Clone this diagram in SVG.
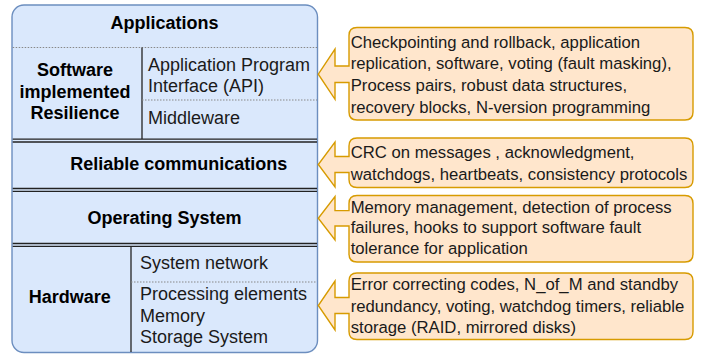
<svg xmlns="http://www.w3.org/2000/svg" width="710" height="356" viewBox="0 0 710 356">
<defs>
<style>
.stack{fill:#dae8fc;stroke:#6c8ebf;stroke-width:1.4}
.call{fill:#ffe6cc;stroke:#d79b00;stroke-width:1.4;stroke-linejoin:miter}
.sep{stroke:#222;stroke-width:1.3;fill:none}
.dot{stroke:#888;stroke-width:1;stroke-dasharray:1.5 1.5;fill:none}
.b{font-family:"Liberation Sans",Arial,sans-serif;font-weight:bold;font-size:18px;fill:#000}
.r{font-family:"Liberation Sans",Arial,sans-serif;font-size:18px;fill:#1a1a1a}
.c{font-family:"Liberation Sans",Arial,sans-serif;font-size:16.7px;fill:#1a1a1a}
</style>
</defs>
<rect class="stack" x="12" y="5" width="305.5" height="347.5" rx="12" ry="12"/>
<g id="applications">
<text class="b" x="164.5" y="29.3" text-anchor="middle">Applications</text>
<line class="dot" x1="12.7" y1="47.5" x2="317" y2="47.5"/>
</g>
<g id="software-resilience">
<line class="sep" x1="142" y1="47.5" x2="142" y2="139"/>
<line class="dot" x1="142" y1="100" x2="317" y2="100"/>
<text class="b" text-anchor="middle"><tspan x="75" y="76">Software</tspan><tspan x="75" y="97.5">implemented</tspan><tspan x="75" y="119.3">Resilience</tspan></text>
<text class="r"><tspan x="148" y="70.7">Application Program</tspan><tspan x="148" y="91.7">Interface (API)</tspan></text>
<text class="r" x="148" y="124">Middleware</text>
</g>
<g id="reliable-communications">
<line class="sep" x1="12.7" y1="139.2" x2="317" y2="139.2"/>
<line class="sep" x1="12.7" y1="142" x2="317" y2="142"/>
<text class="b" x="178.7" y="170" text-anchor="middle">Reliable communications</text>
</g>
<g id="operating-system">
<line class="sep" x1="12.7" y1="188.5" x2="317" y2="188.5"/>
<line class="sep" x1="12.7" y1="191.3" x2="317" y2="191.3"/>
<text class="b" x="164.5" y="224.3" text-anchor="middle">Operating System</text>
</g>
<g id="hardware">
<line class="sep" x1="12.7" y1="243.5" x2="317" y2="243.5"/>
<line class="sep" x1="12.7" y1="246.4" x2="317" y2="246.4"/>
<line class="sep" x1="131" y1="246.4" x2="131" y2="352"/>
<line class="dot" x1="131" y1="282" x2="317" y2="282"/>
<text class="b" x="69.7" y="302.7" text-anchor="middle">Hardware</text>
<text class="r" x="140" y="269.3">System network</text>
<text class="r"><tspan x="140" y="300">Processing elements</tspan><tspan x="140" y="321.7">Memory</tspan><tspan x="140" y="343.3">Storage System</tspan></text>
</g>
<g id="connectors"/>
<g id="callout-software">
<path class="call" d="M357,27.5 H685 Q693,27.5 693,35.5 V112 Q693,120 685,120 H357 Q349,120 349,112 V82.5 H335 V99.3 L318.3,74.2 L335,49 V66 H349 V35.5 Q349,27.5 357,27.5 Z"/>
<text class="c"><tspan x="350.7" y="47.5">Checkpointing and rollback, application</tspan><tspan x="350.7" y="69.2">replication, software, voting (fault masking),</tspan><tspan x="350.7" y="90.9">Process pairs, robust data structures,</tspan><tspan x="350.7" y="112.5">recovery blocks, N-version programming</tspan></text>
</g>
<g id="callout-communications">
<path class="call" d="M357,138 H685 Q693,138 693,146 V179.5 Q693,187.5 685,187.5 H357 Q349,187.5 349,179.5 V172.5 H335 V187 L318.3,164.5 L335,142 V156.5 H349 V146 Q349,138 357,138 Z"/>
<text class="c"><tspan x="350.7" y="158.3">CRC on messages , acknowledgment,</tspan><tspan x="350.7" y="180">watchdogs, heartbeats, consistency protocols</tspan></text>
</g>
<g id="callout-os">
<path class="call" d="M357,195.5 H685 Q693,195.5 693,203.5 V254 Q693,262 685,262 H357 Q349,262 349,254 V226 H335 V240 L318.3,218.3 L335,196.6 V210.6 H349 V203.5 Q349,195.5 357,195.5 Z"/>
<text class="c"><tspan x="350.7" y="212.7">Memory management, detection of process</tspan><tspan x="350.7" y="233.4">failures, hooks to support software fault</tspan><tspan x="350.7" y="254.1">tolerance for application</tspan></text>
</g>
<g id="callout-hardware">
<path class="call" d="M357,273 H685 Q693,273 693,281 V331.5 Q693,339.5 685,339.5 H357 Q349,339.5 349,331.5 V313.5 H335 V330 L318.3,305.5 L335,281 V297.5 H349 V281 Q349,273 357,273 Z"/>
<text class="c"><tspan x="350.7" y="289.5">Error correcting codes, N_of_M and standby</tspan><tspan x="350.7" y="311.5">redundancy, voting, watchdog timers, reliable</tspan><tspan x="350.7" y="333.3">storage (RAID, mirrored disks)</tspan></text>
</g>
</svg>
